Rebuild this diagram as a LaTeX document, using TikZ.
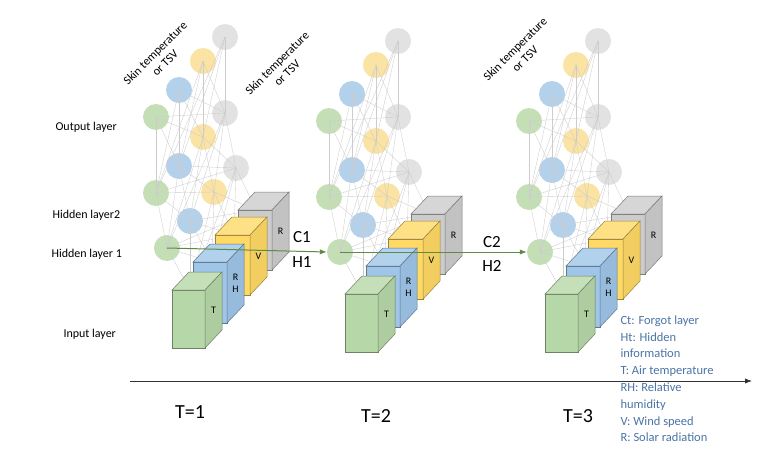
\documentclass[tikz,border=0pt]{standalone}
\usepackage{fontspec}
\setmainfont{Carlito}
\usetikzlibrary{arrows.meta}
\definecolor{cg}{HTML}{C4DFB6}
\definecolor{cb}{HTML}{B4D1EC}
\definecolor{cy}{HTML}{FBE3A4}
\definecolor{cgr}{HTML}{E2E2E2}
\definecolor{bg}{HTML}{B6D7A8}
\definecolor{bb}{HTML}{9FC5E8}
\definecolor{by}{HTML}{FFD966}
\definecolor{bgr}{HTML}{CCCCCC}
\definecolor{legc}{HTML}{4A73A8}
\definecolor{arr}{HTML}{5E8A45}
\tikzset{
 neuron/.style={circle,minimum size=26pt,inner sep=0pt},
 link/.style={gray!40,line width=0.35pt},
 lbl/.style={font=\fontsize{12}{13}\selectfont,anchor=west},
 tl/.style={font=\fontsize{20}{22}\selectfont},
 ch/.style={font=\fontsize{17}{19}\selectfont},
 leg/.style={font=\fontsize{12.5}{16.8}\selectfont,text=legc,align=left,anchor=north west},
 skin/.style={font=\fontsize{12}{14}\selectfont,rotate=45,align=center},
}
\newcommand\mycube[6]{%
 \draw[draw=#5!60!black,fill=#5,line width=0.5pt] (#1,#2) rectangle ++(#3,#4);
 \draw[draw=#5!60!black,fill=#5!80!white,line width=0.5pt] (#1,#2) -- ++(17,-18) -- ++(#3,0) -- ++(-17,18) -- cycle;
 \draw[draw=#5!60!black,fill=#5!95!black,line width=0.5pt] (#1+#3,#2) -- ++(17,-18) -- ++(0,#4) -- ++(-17,18) -- cycle;
 \node[font=\fontsize{10}{12}\selectfont,align=center] at (#1+#3+8.5,#2+#4/2-9) {#6};
}
\begin{document}
\begin{tikzpicture}[x=1pt,y=-1pt]
\useasboundingbox (0,0) rectangle (760,458);
\foreach \g/\dx/\dy in {1/0/0,2/173/4,3/373/4}{
 \begin{scope}[shift={(\dx,\dy)}]
 \foreach \l/\ox/\oy in {1/0/0,2/0/76,3/11/131}{
  \foreach \i/\px/\py/\c in {1/156/117/cg,2/179/90/cb,3/203/61/cy,4/225/37/cgr}{
   \node[neuron,fill=\c] (g\g l\l n\i) at (\px+\ox,\py+\oy) {};
  }
 }
 \foreach \i in {1,...,4}{\foreach \j in {1,...,4}{
   \draw[link] (g\g l1n\i.center) -- (g\g l2n\j.center);
   \draw[link] (g\g l2n\i.center) -- (g\g l3n\j.center);
 }}
 \foreach \i in {1,...,4}{
   \draw[link] (g\g l3n\i.center) -- (190,290);
   \draw[link] (g\g l3n\i.center) -- (212,262);
   \draw[link] (g\g l3n\i.center) -- (234,235);
   \draw[link] (g\g l3n\i.center) -- (256,210);
 }
 \mycube{238}{210}{34}{60}{bgr}{R}
 \mycube{215}{235}{35}{60}{by}{V}
 \mycube{193}{262}{34}{61}{bb}{R\\H}
 \mycube{172}{290}{33}{58}{bg}{T}
 \end{scope}
}
\draw[-{Latex[length=7pt]},arr,line width=1pt] (g1l3n1.center) -- (g2l3n1.west);
\draw[-{Latex[length=7pt]},arr,line width=1pt] (g2l3n1.center) -- (g3l3n1.west);
\node[ch] (c1) at (302,237) {C1};
\node[ch] (h1) at (302,262) {H1};
\node[ch] (c2) at (492,242) {C2};
\node[ch] (h2) at (492,266) {H2};
\node[skin] (s1) at (160,58) {Skin temperature\\or TSV};
\node[skin] (s2) at (282,68) {Skin temperature\\or TSV};
\node[skin] (s3) at (520,54) {Skin temperature\\or TSV};
\node[lbl] (o) at (52,127) {Output layer};
\node[lbl] (h2l) at (49,215) {Hidden layer2};
\node[lbl] (h1l) at (48,254) {Hidden layer 1};
\node[lbl] (il) at (60,334) {Input layer};
\coordinate (a0) at (130,381);
\coordinate (a1) at (752,381);
\draw[-{Latex[length=7pt]},line width=0.8pt,black!80] (a0) -- (a1);
\node[tl] (t1) at (190,412) {T=1};
\node[tl] (t2) at (376,416) {T=2};
\node[tl] (t3) at (578,416) {T=3};
\node[leg] (leg) at (617,312) {Ct: Forgot layer\\Ht: Hidden\\information\\T: Air temperature\\RH: Relative\\humidity\\V: Wind speed\\R: Solar radiation};
\end{tikzpicture}
\end{document}
